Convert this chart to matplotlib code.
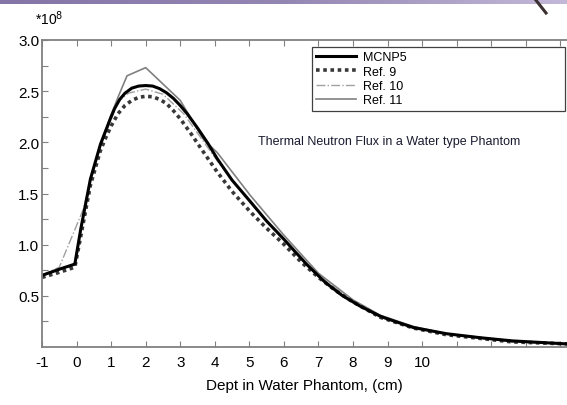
import numpy as np
import matplotlib.pyplot as plt
from matplotlib.lines import Line2D

plt.rcParams['font.family'] = ['Liberation Sans', 'DejaVu Sans']

# depth in water phantom (cm) and thermal flux (x 1e8)
mcnp_x = [-1, -0.5, -0.05, 0.12, 0.4, 0.69, 0.85, 1.0, 1.1, 1.25, 1.4, 1.6, 1.8, 2.0,
          2.2, 2.4, 2.6, 2.8, 3.0, 3.2, 3.5, 3.8, 4.07, 4.5, 5.03, 5.5, 5.98, 6.3,
          6.68, 7.2, 7.7, 8.2, 8.79, 9.3, 9.75, 10.7, 11.7, 12.6, 14.2]
mcnp_y = [0.70, 0.76, 0.81, 1.15, 1.64, 1.98, 2.12, 2.25, 2.33, 2.42, 2.48, 2.53, 2.55, 2.555,
          2.55, 2.525, 2.485, 2.43, 2.36, 2.28, 2.14, 1.99, 1.84, 1.63, 1.42, 1.23, 1.06, 0.94,
          0.80, 0.63, 0.50, 0.40, 0.30, 0.24, 0.19, 0.13, 0.09, 0.06, 0.03]

ref9_x = [-1, -0.5, -0.05, 0.12, 0.4, 0.69, 0.85, 1.0, 1.2, 1.4, 1.6, 1.8, 2.0, 2.2,
          2.4, 2.6, 2.8, 3.0, 3.3, 3.6, 4.07, 4.5, 5.03, 5.5, 5.98, 6.5, 7.0, 7.5, 8.0,
          8.79, 9.75, 10.7, 12.6, 14.2]
ref9_y = [0.68, 0.73, 0.78, 1.08, 1.58, 1.92, 2.05, 2.16, 2.28, 2.36, 2.41, 2.44, 2.45, 2.445,
          2.42, 2.38, 2.31, 2.23, 2.09, 1.94, 1.71, 1.52, 1.32, 1.16, 1.01, 0.83, 0.68, 0.55, 0.44,
          0.29, 0.185, 0.12, 0.05, 0.03]

ref10_x = [-1, -0.5, 0.2, 0.4, 0.69, 0.98, 1.21, 1.5, 2.0, 2.5, 3.1, 4.07, 5.03, 5.98,
           7.0, 8.0, 8.79, 9.75, 10.7, 12.6, 14.2]
ref10_y = [0.70, 0.78, 1.35, 1.62, 1.96, 2.21, 2.40, 2.48, 2.52, 2.47, 2.28, 1.82, 1.41, 1.05,
           0.70, 0.45, 0.29, 0.19, 0.125, 0.05, 0.03]

ref11_x = [-1, -0.05, 0.12, 0.4, 0.69, 0.98, 1.21, 1.46, 2.0, 3.0, 3.67, 4.07, 5.03,
           5.98, 7.0, 8.0, 8.79, 9.75, 10.7, 12.6, 14.2]
ref11_y = [0.70, 0.81, 1.15, 1.64, 1.98, 2.25, 2.45, 2.65, 2.73, 2.41, 2.03, 1.90, 1.48,
           1.10, 0.72, 0.46, 0.31, 0.20, 0.13, 0.05, 0.03]

x_labels = [str(i) for i in range(-1, 11)]

fig = plt.figure(figsize=(5.67, 4.06), dpi=100)

# slide header band
band = fig.add_axes([0, 1 - 5 / 406, 1, 5 / 406])
grad = np.linspace(0, 1, 256).reshape(1, -1)
band.imshow(grad, aspect='auto', cmap=plt.matplotlib.colors.LinearSegmentedColormap.from_list(
    'hdr', ['#8575a6', '#9486b3', '#c3b8d8']))
band.axis('off')
fig.add_artist(Line2D([535 / 567, 546 / 567], [1.0, 1 - 14 / 406], color='#3a3030', lw=2.2))

ax = fig.add_axes([42 / 567, 58 / 406, 1 - 42 / 567, 307 / 406])

ax.plot(ref11_x, ref11_y, color='#808080', lw=1.2, label='Ref. 11')
ax.plot(ref10_x, ref10_y, color='#a0a0a0', lw=1.0, linestyle='-.', label='Ref. 10')
ax.plot(ref9_x, ref9_y, color='#383838', lw=2.6, linestyle=(0, (1, 1)), label='Ref. 9')
ax.plot(mcnp_x, mcnp_y, color='black', lw=2.2, label='MCNP5')

ax.set_xlim(-1, 14.19)
ax.set_ylim(0, 3.0)

ax.set_xticks(range(-1, 15))
ax.set_xticklabels(x_labels + [''] * 4)
yt = np.arange(0.25, 3.01, 0.25)
ax.set_yticks(yt)
ax.set_yticklabels(['' if abs(v * 2 - round(v * 2)) > 1e-6 else f'{v:.1f}' for v in yt])

ax.tick_params(axis='x', direction='in', top=True, length=4, color='#808080',
               labelsize=11, pad=6)
ax.tick_params(axis='y', direction='in', right=False, length=4, color='#808080',
               labelsize=11, pad=2)
for s in ['left', 'bottom', 'top']:
    ax.spines[s].set_color('#808080')
    ax.spines[s].set_linewidth(1.3)
ax.spines['right'].set_visible(False)

ax.set_xlabel('Dept in Water Phantom, (cm)', fontsize=11, labelpad=6)

fig.text(35 / 567, 1 - 25 / 406, r'*10$^{8}$', fontsize=10)
fig.text(258 / 567, 1 - 145 / 406, 'Thermal Neutron Flux in a Water type Phantom',
         fontsize=9, color='#1a1a30')

h, l = ax.get_legend_handles_labels()
order = [3, 2, 1, 0]
leg = ax.legend([h[i] for i in order], [l[i] for i in order],
                bbox_to_anchor=(312 / 567, 1 - 108 / 406, 253 / 567, 60 / 406),
                bbox_transform=fig.transFigure, loc='upper left', mode='expand',
                fontsize=9, handlelength=3.2, labelspacing=0.18, borderpad=0.35,
                handletextpad=0.5, fancybox=False, framealpha=1, borderaxespad=0)
leg.get_frame().set_edgecolor('#404040')
leg.get_frame().set_linewidth(0.9)

fig.savefig('out.png', dpi=100)
